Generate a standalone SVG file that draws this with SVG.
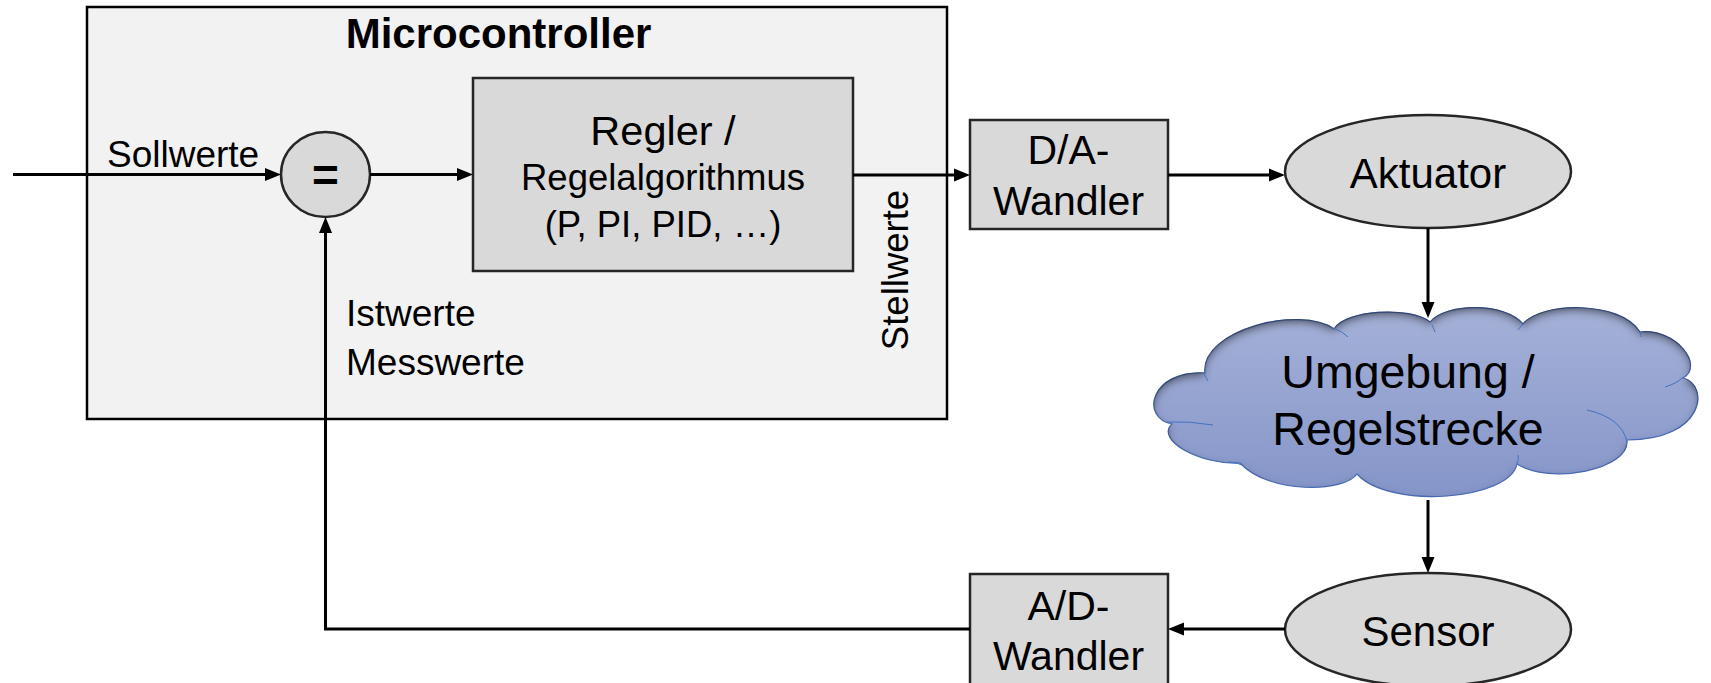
<svg xmlns="http://www.w3.org/2000/svg" width="1711" height="683" viewBox="0 0 1711 683">
<defs>
<style>
text{font-family:"Liberation Sans",Arial,sans-serif;fill:#000}
.box{fill:#d9d9d9;stroke:#262626;stroke-width:2.5}
.conn{fill:none;stroke:#000;stroke-width:3;marker-end:url(#ah)}
.mid{text-anchor:middle}
.inner{fill:none;stroke:#4472c4;stroke-width:1}
</style>
<marker id="ah" markerUnits="userSpaceOnUse" markerWidth="16" markerHeight="14" refX="10" refY="7" orient="auto">
<path d="M0,0.5 L16,7 L0,13.5 z" fill="#000"/>
</marker>
<linearGradient id="cloudFill" x1="0" y1="0" x2="0" y2="1">
<stop offset="0" stop-color="#a5b1d8"/>
<stop offset="1" stop-color="#8595c8"/>
</linearGradient>
<filter id="inset" x="-5%" y="-10%" width="110%" height="120%">
<feComponentTransfer in="SourceAlpha" result="inv"><feFuncA type="table" tableValues="1 0"/></feComponentTransfer>
<feGaussianBlur in="inv" stdDeviation="4"/>
<feOffset dx="0" dy="4" result="ob"/>
<feFlood flood-color="#2a2a2a" flood-opacity="0.9"/>
<feComposite in2="ob" operator="in"/>
<feComposite in2="SourceAlpha" operator="in" result="sh"/>
<feMerge><feMergeNode in="SourceGraphic"/><feMergeNode in="sh"/></feMerge>
</filter>
</defs>
<rect width="1711" height="683" fill="#fff"/>

<g id="microcontroller">
<rect x="87" y="7" width="860" height="412" fill="#f2f2f2" stroke="#000" stroke-width="2.5"/>
<text x="498.5" y="48" class="mid" font-size="42" font-weight="bold">Microcontroller</text>
</g>

<g id="vergleicher">
<ellipse cx="325.5" cy="174.5" rx="44.5" ry="42.5" class="box" stroke="#000"/>
<text x="325.5" y="191" class="mid" font-size="46" font-weight="bold">=</text>
</g>

<g id="regler">
<rect x="473" y="78" width="380" height="193" class="box"/>
<text x="663" y="145" class="mid" font-size="41.5">Regler /</text>
<text x="663" y="190" class="mid" font-size="36.5">Regelalgorithmus</text>
<text x="663" y="237" class="mid" font-size="36.5">(P, PI, PID, …)</text>
</g>

<g id="da-wandler">
<rect x="970" y="120" width="198" height="109" class="box"/>
<text x="1068.5" y="164" class="mid" font-size="41">D/A-</text>
<text x="1068.5" y="215" class="mid" font-size="41">Wandler</text>
</g>

<g id="aktuator">
<ellipse cx="1428" cy="171.5" rx="143" ry="56.5" class="box" stroke="#000"/>
<text x="1428" y="188" class="mid" font-size="42">Aktuator</text>
</g>

<g id="umgebung">
<path filter="url(#inset)" fill="url(#cloudFill)" stroke="#4a6fbf" stroke-width="1.2" d="M1172,424 C1140,418 1150,370 1205,373 C1200,330 1300,305 1334,329 C1345,310 1410,306 1430,322 C1445,303 1505,302 1523,324 C1540,302 1620,300 1640,332 C1675,328 1705,365 1683,378 C1710,385 1705,440 1627,440 C1630,470 1550,485 1517,464 C1510,500 1390,510 1357,474 C1345,492 1270,495 1240,463 C1200,465 1155,440 1172,424 Z"/>
<path class="inner" d="M1587,410 Q1622,418 1627,442 M1665,387 Q1678,383 1683,377 M1167,422 Q1190,421 1213,425 M1203,372 Q1205,376 1208,381 M1333,328 Q1342,331 1348,337 M1517,464 Q1519,459 1518,455 M1228,462 Q1236,462 1242,465 M1432,325 Q1434,329 1435,332 M1523,324 Q1520,327 1518,330 M1640,332 Q1641,335 1641,337"/>
<text x="1408" y="388" class="mid" font-size="46.5">Umgebung /</text>
<text x="1408" y="445" class="mid" font-size="46.5">Regelstrecke</text>
</g>

<g id="sensor">
<ellipse cx="1428" cy="629.5" rx="143" ry="56.5" class="box" stroke="#000"/>
<text x="1428" y="646" class="mid" font-size="42">Sensor</text>
</g>

<g id="ad-wandler">
<rect x="970" y="574" width="198" height="113" class="box"/>
<text x="1068.5" y="620" class="mid" font-size="41">A/D-</text>
<text x="1068.5" y="670" class="mid" font-size="41">Wandler</text>
</g>

<g id="connectors">
<path class="conn" d="M13,174.5 H275"/>
<path class="conn" d="M370,174.5 H467"/>
<path class="conn" d="M853,175 H964"/>
<path class="conn" d="M1168,175 H1279"/>
<path class="conn" d="M1428,228 V312"/>
<path class="conn" d="M1428,500 V567"/>
<path class="conn" d="M1285,629 H1174"/>
<path class="conn" d="M970,629 H325.5 V223" stroke-linejoin="miter"/>
</g>

<g id="labels">
<text x="107" y="167" font-size="37">Sollwerte</text>
<text x="346" y="326" font-size="37">Istwerte</text>
<text x="346" y="375" font-size="37">Messwerte</text>
<text transform="translate(908,270) rotate(-90)" class="mid" font-size="36.5">Stellwerte</text>
</g>
</svg>
